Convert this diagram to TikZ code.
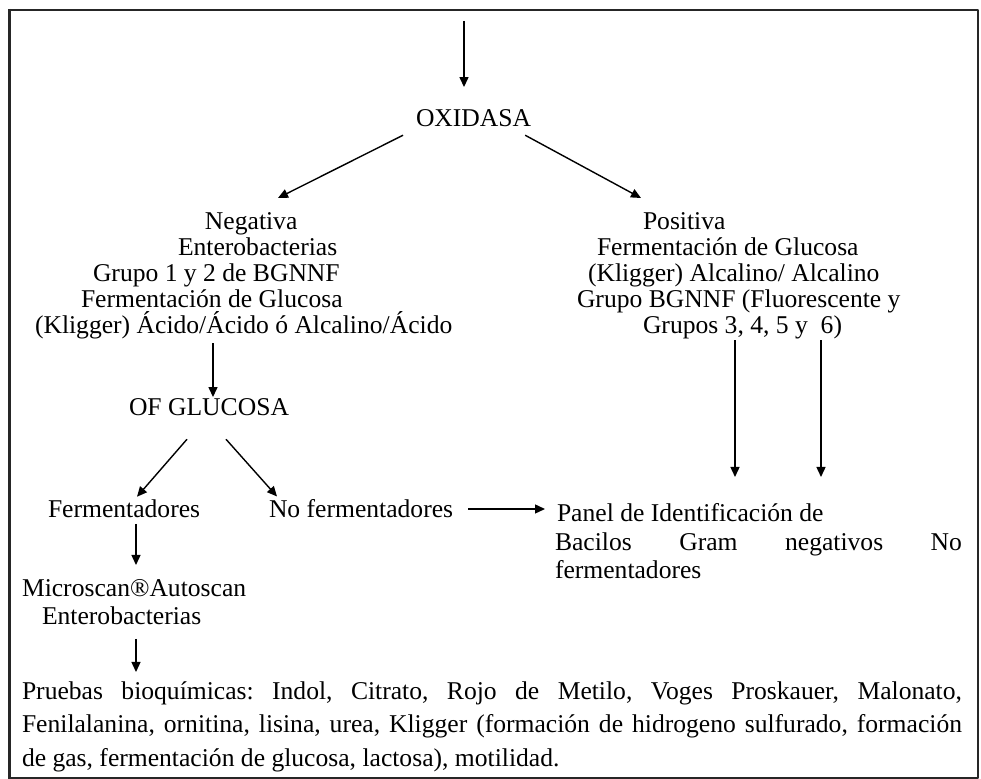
\documentclass[tikz,border=0pt]{standalone}
\usepackage{fontspec}
\setmainfont{Liberation Serif}
\usetikzlibrary{calc,arrows.meta}
\frenchspacing

\begin{document}
\begin{tikzpicture}[x=0.5pt, y=-0.5pt, font=\fontsize{12.8}{13}\selectfont, line join=round, >={Triangle[length=5pt,width=4.5pt]},
		txt/.style={inner sep=0pt, outer sep=0pt, align=left},
		arr/.style={->, line width=0.7pt}]
		\useasboundingbox (0,0) rectangle (981,779);
		\draw[line width=0.9pt, black!85] (9,10) rectangle (978,778);
		\draw[line width=1.6pt, black!85] (9.5,9) -- (9.5,779);

		\path
		(464,21) coordinate (top)
		(416,127) node[txt, anchor=base west] (oxi) {OXIDASA}
		(35,212.5) node[txt, anchor=north west] (neg) {\hspace*{85pt}Negativa\\
			\hspace*{71.5pt}Enterobacterias\\
			\hspace*{29pt}Grupo 1 y 2 de BGNNF\\
			\hspace*{23pt}Fermentación de Glucosa\\
			(Kligger) Ácido/Ácido ó Alcalino/Ácido}
		(577,212.5) node[txt, anchor=north west] (pos) {\hspace*{33pt}Positiva\\
			\hspace*{10pt}Fermentación de Glucosa\\
			\hspace*{5.5pt}(Kligger) Alcalino/ Alcalino\\
			Grupo BGNNF (Fluorescente y\\
			\hspace*{33pt}Grupos 3, 4, 5 y\ \ 6)}
		(129,416) node[txt, anchor=base west] (ofg) {OF GLUCOSA}
		(48,518) node[txt, anchor=base west] (fer) {Fermentadores}
		(269,518) node[txt, anchor=base west] (nof) {No fermentadores}
		(555,503.5) node[txt, anchor=north west, font=\fontsize{12.8}{14.25}\selectfont] (pan) {\hspace*{1pt}Panel de Identificación de\\
			\makebox[203.5pt][s]{Bacilos Gram negativos No}\\
			fermentadores}
		(22,579.5) node[txt, anchor=north west, font=\fontsize{12.8}{14}\selectfont] (mic) {Microscan®Autoscan\\
			\hspace*{10pt}Enterobacterias}
		(22,681.5) node[txt, anchor=north west, font=\fontsize{12.8}{16.75}\selectfont] (pru) {\makebox[470pt][s]{Pruebas bioquímicas: Indol, Citrato, Rojo de Metilo, Voges Proskauer, Malonato,}\\
			\makebox[470pt][s]{Fenilalanina, ornitina, lisina, urea, Kligger (formación de hidrogeno sulfurado, formación}\\
			de gas, fermentación de glucosa, lactosa), motilidad.}
		;

		\draw[arr] (top) -- ($(oxi.north west)+(48,-23)$);
		\draw[arr] ($(oxi.south west)+(-13,8)$) -- ($(neg.north west)+(243,-14.5)$);
		\draw[arr] ($(oxi.south east)+(-6,8)$) -- ($(pos.north west)+(64,-14.5)$);
		\draw[arr] ($(neg.south west)+(178,4.5)$) -- ($(ofg.north west)+(84,-2)$);
		\draw[arr] ($(ofg.south west)+(58,23)$) -- ($(fer.north west)+(89,-3.5)$);
		\draw[arr] ($(ofg.south west)+(97,23)$) -- ($(nof.north west)+(8,-3.5)$);
		\draw[arr] ($(nof.base east)+(15,-9)$) -- ($(nof.base east -| pan.west)+(-10,-9)$);
		\draw[arr] ($(pos.south west)+(158,1.5)$) -- ($(pan.north west)+(180,-26.5)$);
		\draw[arr] ($(pos.south west)+(244,1.5)$) -- ($(pan.north west)+(266,-26.5)$);
		\draw[arr] ($(fer.base west)+(88,6)$) -- ($(mic.north west)+(114,-14.5)$);
		\draw[arr] ($(mic.south west)+(114,14)$) -- ($(pru.north west)+(114,-9.5)$);
	\end{tikzpicture}
\end{document}
